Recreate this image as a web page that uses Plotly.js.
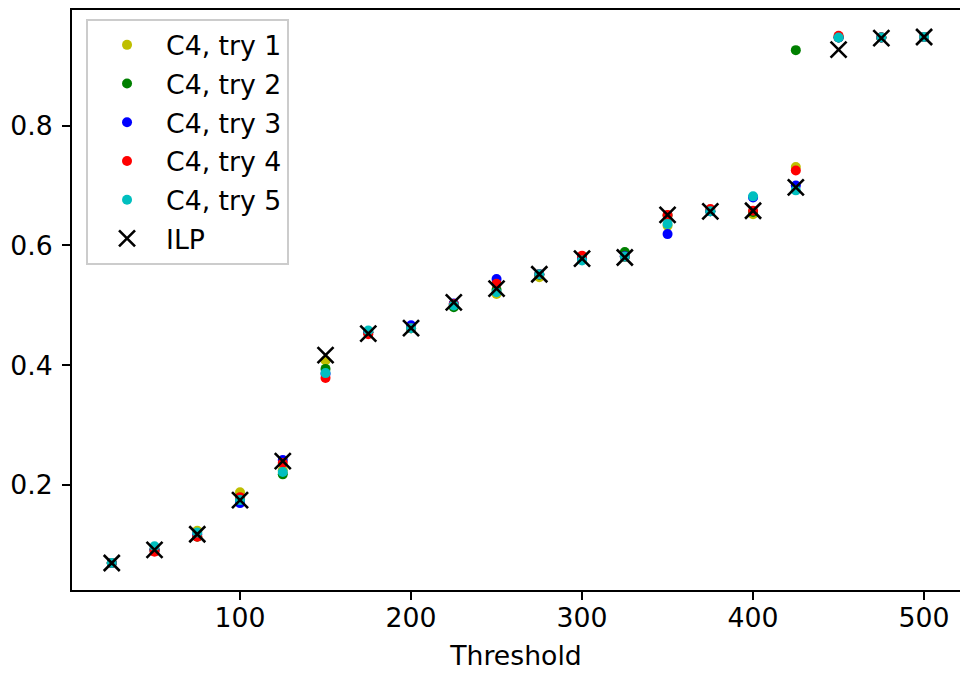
<!DOCTYPE html>
<html>
<head>
<meta charset="utf-8">
<script src="https://cdn.plot.ly/plotly-3.0.1.min.js"></script>
<style>html,body{margin:0;padding:0;background:#fff;}#chart{width:960px;height:675px;}</style>
</head>
<body>
<div id="chart"></div>
<script>
const thresholds = [25,50,75,100,125,150,175,200,225,250,275,300,325,350,375,400,425,450,475,500];
const try1 = [0.070,0.092,0.124,0.188,0.225,0.408,0.455,0.462,0.500,0.519,0.547,0.578,0.581,0.633,0.657,0.652,0.731,0.947,0.947,0.948];
const try2 = [0.070,0.092,0.114,0.176,0.218,0.394,0.455,0.462,0.497,0.526,0.551,0.578,0.589,0.650,0.657,0.656,0.926,0.947,0.947,0.948];
const try3 = [0.070,0.092,0.118,0.170,0.242,0.386,0.455,0.467,0.503,0.544,0.552,0.578,0.582,0.619,0.657,0.680,0.700,0.947,0.947,0.948];
const try4 = [0.070,0.089,0.114,0.180,0.237,0.379,0.452,0.462,0.502,0.536,0.552,0.583,0.581,0.651,0.661,0.658,0.725,0.950,0.947,0.948];
const try5 = [0.070,0.098,0.121,0.175,0.222,0.387,0.458,0.462,0.500,0.522,0.552,0.575,0.581,0.636,0.657,0.682,0.692,0.947,0.947,0.948];
const ilp  = [0.070,0.092,0.118,0.175,0.240,0.417,0.453,0.462,0.505,0.528,0.552,0.578,0.580,0.651,0.657,0.658,0.697,0.927,0.946,0.948];
const seriesNames = ["C4, try 1","C4, try 2","C4, try 3","C4, try 4","C4, try 5"];
const seriesColors = ["#bfbf00","#008000","#0000ff","#ff0000","#00bfbf"];
const seriesValues = [try1,try2,try3,try4,try5];
const xTicks = [100,200,300,400,500];
const yTicks = [0.2,0.4,0.6,0.8];

const traces = seriesValues.map((vals,i)=>({
  x: thresholds, y: vals, type:'scatter', mode:'markers', name: seriesNames[i],
  legendgroup: 'g'+i,
  marker:{color: seriesColors[i], size: 10, line:{width:0}}
}));
traces.push({
  x: thresholds, y: ilp, type:'scatter', mode:'markers', name:'ILP', legendgroup:'g5',
  marker:{symbol:'x-thin', size:16, color:'#000', line:{color:'#000', width:2.6}}
});

const F = 'DejaVu Sans';
const FS = 26.7;
const layout = {
  width:960, height:675,
  margin:{l:72, r:0, t:10, b:85},
  paper_bgcolor:'#fff', plot_bgcolor:'#fff',
  font:{family:F, size:FS, color:'#000'},
  showlegend:true,
  legend:{x:0.0158, y:0.9845, xanchor:'left', yanchor:'top', bgcolor:'rgba(255,255,255,0.8)',
    bordercolor:'#cccccc', borderwidth:2, font:{family:F, size:FS, color:'#000'},
    tracegroupgap:1, itemwidth:68},
  xaxis:{range:[1.75,521], tickvals:xTicks, ticktext:xTicks.map(String),
    showgrid:false, zeroline:false, showline:true, mirror:true, linecolor:'#000', linewidth:2,
    ticks:'outside', ticklen:8, tickwidth:2, tickcolor:'#000', ticklabelstandoff:-5,
    tickfont:{family:F, size:FS},
    title:{text:'Threshold', font:{family:F, size:FS}, standoff:14}},
  yaxis:{range:[0.025,0.993], tickvals:yTicks, ticktext:yTicks.map(v=>v.toFixed(1)),
    showgrid:false, zeroline:false, showline:true, mirror:false, linecolor:'#000', linewidth:2,
    ticks:'outside', ticklen:8, tickwidth:2, tickcolor:'#000', ticklabelstandoff:4,
    tickfont:{family:F, size:FS}}
};
Plotly.newPlot('chart', traces, layout, {displayModeBar:false, staticPlot:true});
</script>
</body>
</html>
